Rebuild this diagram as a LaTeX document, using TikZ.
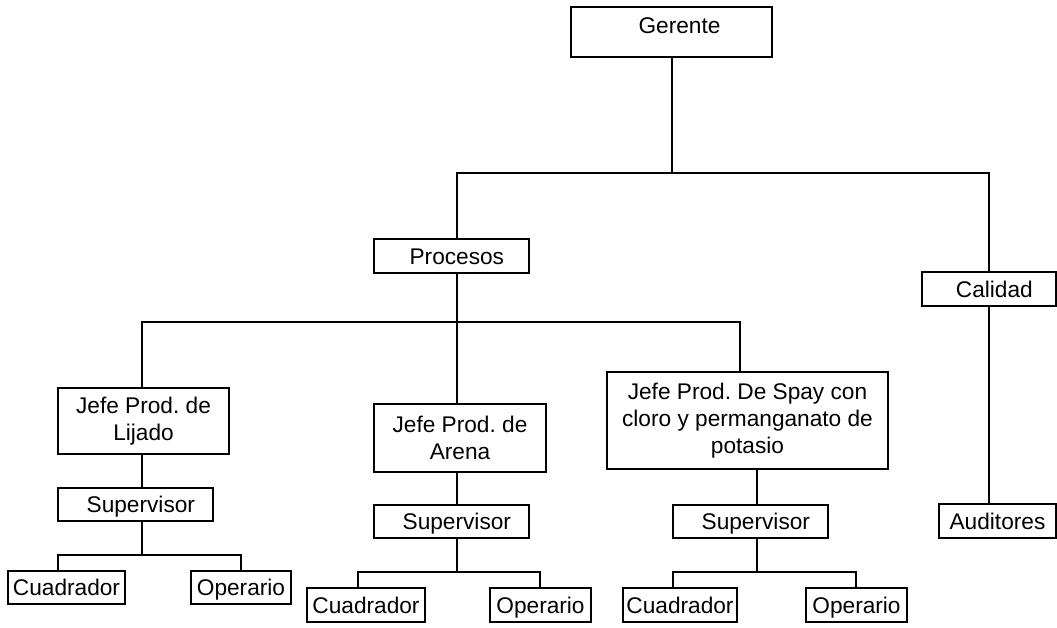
\documentclass[tikz,border=0pt]{standalone}
\usepackage{fontspec}
\setmainfont{Liberation Sans}
\usetikzlibrary{positioning}
\frenchspacing

\begin{document}
\begin{tikzpicture}[
    x=0.75pt, y=-0.75pt,
    font=\fontsize{17pt}{20.25pt}\selectfont,
    caja/.style  = {draw=black, line width=1.5pt, inner sep=0pt, align=center},
    uno/.style   = {caja, text height=12.2pt, text depth=0pt},
    sup/.style   = {uno, minimum width=116.25pt, minimum height=24.75pt},
    lin/.style   = {draw=black, line width=1.5pt},
]
\useasboundingbox (0,0) rectangle (1057,628);

%============================ TOP ===================================
\node[caja, minimum width=150.75pt, minimum height=37.5pt,
      text height=19.5pt, text depth=18pt] (ger) at (671.5,32) {\hspace*{12pt}Gerente};
\node[uno, minimum width=116.25pt, minimum height=25.5pt] (pro) at (451.5,256) {\hspace*{8pt}Procesos};
\node[uno, minimum width=100.5pt, minimum height=25.5pt] (cal) at (989,289) {\hspace*{8pt}Calidad};
\node[uno, minimum width=87.75pt, minimum height=25.5pt] (aud) at (997.5,521) {Auditores};

%============================ JEFES =================================
\node[caja, minimum width=128.25pt, minimum height=49.5pt] (lij) at (143.5,421)
      {Jefe Prod. de\\Lijado};
\node[caja, minimum width=129pt, minimum height=51pt] (are) at (460,438)
      {Jefe Prod. de\\Arena};
\node[caja, minimum width=210.75pt, minimum height=72.75pt] (spa) at (747.5,420.5)
      {Jefe Prod. De Spay con\\cloro y permanganato de\\potasio};

%============================ SUPERVISORES ==========================
\node[sup] (s1) at (135.5,504.5) {\hspace*{8pt}Supervisor};
\node[sup] (s2) at (451.5,521.5) {\hspace*{8pt}Supervisor};
\node[sup] (s3) at (750.5,521.5) {\hspace*{8pt}Supervisor};

%============================ OPERATIVOS ============================
\node[uno, minimum width=87.75pt, minimum height=24.75pt] (c1) at (66.5,587.5) {Cuadrador};
\node[uno, minimum width=75pt, minimum height=24.75pt] (o1) at (241,587.5) {Operario};
\node[uno, minimum width=88.5pt, minimum height=25.5pt] (c2) at (366,605) {Cuadrador};
\node[uno, minimum width=75.75pt, minimum height=25.5pt] (o2) at (540.5,605) {Operario};
\node[uno, minimum width=85.5pt, minimum height=25.5pt] (c3) at (680,605) {Cuadrador};
\node[uno, minimum width=75.75pt, minimum height=25.5pt] (o3) at (856.5,605) {Operario};

%============================ LINEAS ================================
\coordinate (jg) at (672,173);
\coordinate (jp) at (457,322);
\coordinate (hl) at (142,322);
\coordinate (hr) at (740,322);

\draw[lin] (ger.south -| jg) -- (jg);
\draw[lin] (pro.north -| jp) |- (jg) -| (cal.north);
\draw[lin] (cal.south) -- (aud.north -| cal.south);
\draw[lin] (pro.south -| jp) -- (jp);
\draw[lin] (lij.north -| hl) -- (hl) -- (hr) -- (spa.north -| hr);
\draw[lin] (jp) -- (are.north -| jp);

% --- ramas de cada jefe
\coordinate (j1) at (142,555);
\coordinate (a1) at (58,555);
\coordinate (b1) at (241,555);
\draw[lin] (lij.south -| j1) -- (s1.north -| j1);
\draw[lin] (s1.south -| j1) -- (j1);
\draw[lin] (c1.north -| a1) -- (a1) -- (b1) -- (o1.north -| b1);

\coordinate (j2) at (457,572);
\coordinate (a2) at (358,572);
\coordinate (b2) at (540,572);
\draw[lin] (are.south -| j2) -- (s2.north -| j2);
\draw[lin] (s2.south -| j2) -- (j2);
\draw[lin] (c2.north -| a2) -- (a2) -- (b2) -- (o2.north -| b2);

\coordinate (j3) at (757,572);
\coordinate (a3) at (673,572);
\coordinate (b3) at (856,572);
\draw[lin] (spa.south -| j3) -- (s3.north -| j3);
\draw[lin] (s3.south -| j3) -- (j3);
\draw[lin] (c3.north -| a3) -- (a3) -- (b3) -- (o3.north -| b3);

\end{tikzpicture}
\end{document}
